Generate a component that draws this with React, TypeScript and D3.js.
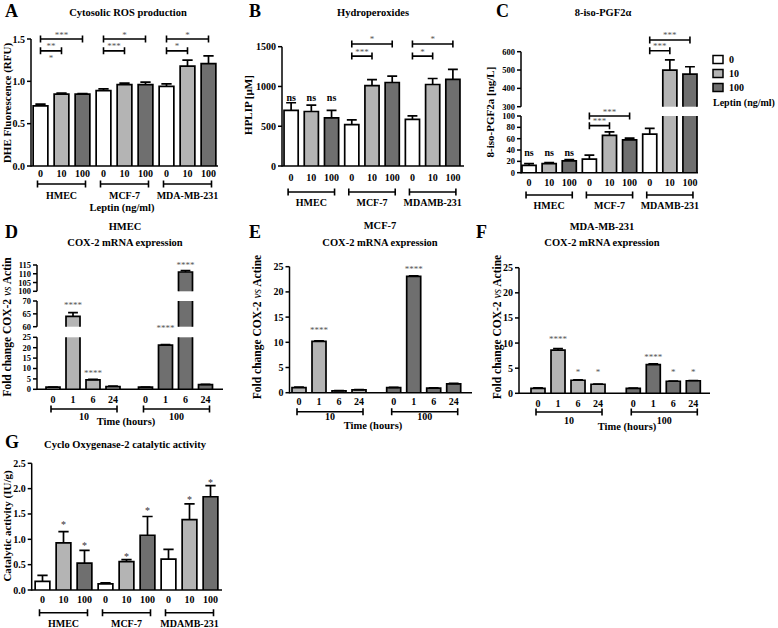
import React from "react";
import * as d3 from "d3";

const SERIF = "'Liberation Serif', 'Times New Roman', Times, serif";
const C_WHITE = "#ffffff";
const C_LIGHT = "#b4b4b4";
const C_DARK = "#6f6f6f";
const C_STAR = "#555555";
const doseFills = [C_WHITE, C_LIGHT, C_DARK];

// ---------------- data ----------------
const leptinDoses = ["0", "10", "100"];
const cellLinesA = ["HMEC", "MCF-7", "MDA-MB-231"];
const cellLinesB = ["HMEC", "MCF-7", "MDAMB-231"];

const rosMean = [0.71, 0.85, 0.85, 0.89, 0.96, 0.96, 0.94, 1.18, 1.21];
const rosErr = [0.02, 0.01, 0.005, 0.02, 0.02, 0.03, 0.03, 0.07, 0.09];

const hpMean = [700, 685, 605, 520, 1010, 1050, 585, 1025, 1090];
const hpErr = [95, 80, 95, 60, 75, 80, 45, 75, 125];

const isoMean = [13, 16, 21, 24, 66, 58, 68, 500, 478];
const isoErr = [3, 2, 2, 7, 6, 3, 10, 55, 40];

const timePoints = ["0", "1", "6", "24"];
const timeDoses = ["10", "100"];

const hmec10 = [1.0, 64.0, 4.5, 1.3];
const hmec10Err = [0.1, 1.5, 0.3, 0.2];
const hmec100 = [1.0, 21.2, 111.0, 2.2];
const hmec100Err = [0.1, 0.3, 0.8, 0.2];

const mcf10 = [1.0, 10.2, 0.35, 0.55];
const mcf10Err = [0.1, 0.1, 0.05, 0.05];
const mcf100 = [1.0, 23.1, 0.9, 1.75];
const mcf100Err = [0.05, 0.1, 0.05, 0.1];

const mda10 = [1.0, 8.6, 2.6, 1.8];
const mda10Err = [0.1, 0.3, 0.1, 0.05];
const mda100 = [1.0, 5.7, 2.4, 2.5];
const mda100Err = [0.05, 0.15, 0.05, 0.05];

const coxMean = [0.17, 0.93, 0.53, 0.12, 0.56, 1.08, 0.61, 1.39, 1.84];
const coxErr = [0.12, 0.22, 0.25, 0.02, 0.04, 0.37, 0.19, 0.31, 0.22];

// significance annotations (bar indices, value level, label)
type Sig = { a: number; b: number; v: number; label: string };
const rosSig: Sig[] = [
  { a: 0, b: 2, v: 1.5, label: "***" },
  { a: 0, b: 1, v: 1.36, label: "**" },
  { a: 3, b: 5, v: 1.5, label: "*" },
  { a: 3, b: 4, v: 1.36, label: "***" },
  { a: 6, b: 8, v: 1.5, label: "*" },
  { a: 6, b: 7, v: 1.36, label: "*" },
];
const rosSigText: Sig[] = [{ a: 0, b: 1, v: 1.29, label: "*" }];
const hpSig: Sig[] = [
  { a: 3, b: 5, v: 1534, label: "*" },
  { a: 3, b: 4, v: 1382, label: "***" },
  { a: 6, b: 8, v: 1534, label: "*" },
  { a: 6, b: 7, v: 1382, label: "*" },
];
const hpNs = [{ i: 0, v: 853 }, { i: 1, v: 853 }, { i: 2, v: 853 }];
const isoSig: Sig[] = [
  { a: 3, b: 5, v: 100, label: "***" },
  { a: 3, b: 4, v: 83, label: "***" },
  { a: 6, b: 8, v: 664, label: "***" },
  { a: 6, b: 7, v: 605, label: "***" },
];
const isoNs = [{ i: 0, v: 34 }, { i: 1, v: 34 }, { i: 2, v: 34 }];

type TStar = { g: string; t: string; v: number; label: string };
const hmecStars: TStar[] = [
  { g: "10", t: "1", v: 69.2, label: "****" },
  { g: "10", t: "6", v: 8.5, label: "****" },
  { g: "100", t: "1", v: 30, label: "****" },
  { g: "100", t: "6", v: 116, label: "****" },
];
const mcfStars: TStar[] = [
  { g: "10", t: "1", v: 12.8, label: "****" },
  { g: "100", t: "1", v: 24.9, label: "****" },
];
const mdaStars: TStar[] = [
  { g: "10", t: "1", v: 11.1, label: "****" },
  { g: "10", t: "6", v: 4.5, label: "*" },
  { g: "10", t: "24", v: 4.5, label: "*" },
  { g: "100", t: "1", v: 7.5, label: "****" },
  { g: "100", t: "6", v: 4.5, label: "*" },
  { g: "100", t: "24", v: 4.5, label: "*" },
];
const coxStars = [
  { i: 1, v: 1.32 },
  { i: 2, v: 0.91 },
  { i: 4, v: 0.7 },
  { i: 5, v: 1.59 },
  { i: 7, v: 1.81 },
  { i: 8, v: 2.16 },
];

// ---------------- helpers ----------------
type Seg = { d: [number, number]; r: [number, number]; ticks: number[] };

function yFn(segs: Seg[]) {
  const sc = segs.map((s) => d3.scaleLinear().domain(s.d).range(s.r));
  return (v: number) => {
    for (let i = 0; i < segs.length; i++) {
      if (v <= segs[i].d[1] || i === segs.length - 1) {
        if (i > 0 && v < segs[i].d[0]) return sc[i - 1](v);
        return sc[i](v);
      }
    }
    return sc[0](v);
  };
}

function Txt(p: {
  x: number;
  y: number;
  children: React.ReactNode;
  size?: number;
  weight?: string;
  anchor?: string;
  fill?: string;
  rot?: boolean;
}) {
  return (
    <text
      x={p.x}
      y={p.y}
      fontFamily={SERIF}
      fontSize={p.size ?? 10}
      fontWeight={p.weight ?? "bold"}
      textAnchor={(p.anchor as any) ?? "middle"}
      fill={p.fill ?? "#000"}
      transform={p.rot ? `rotate(-90 ${p.x} ${p.y})` : undefined}
    >
      {p.children}
    </text>
  );
}

type BarSpec = { cx: number; w: number; v: number; e: number; fill: string };

function Bars({ bars, segs }: { bars: BarSpec[]; segs: Seg[] }) {
  const y = yFn(segs);
  return (
    <g>
      {bars.map((b, i) => {
        const x0 = b.cx - b.w / 2;
        const x1 = b.cx + b.w / 2;
        const pieces = segs.map((s, j) => {
          if (j > 0 && b.v <= s.d[0]) return null;
          const sc = d3.scaleLinear().domain(s.d).range(s.r);
          const isLast = b.v <= s.d[1] || j === segs.length - 1;
          const yb = sc(s.d[0]);
          const yt = sc(Math.min(b.v, s.d[1]));
          const d = isLast
            ? `M${x0},${yb}V${yt}H${x1}V${yb}`
            : `M${x0},${yb}V${yt}M${x1},${yt}V${yb}`;
          return (
            <g key={j}>
              <rect x={x0} y={yt} width={b.w} height={Math.max(0, yb - yt)} fill={b.fill} />
              <path d={d} fill="none" stroke="#000" strokeWidth={1.7} />
            </g>
          );
        });
        const ya = y(b.v);
        const ye = y(b.v + b.e);
        const cw = b.w * 0.7;
        return (
          <g key={i}>
            {pieces}
            <path
              d={`M${b.cx},${ya}V${ye}M${b.cx - cw / 2},${ye}H${b.cx + cw / 2}`}
              fill="none"
              stroke="#000"
              strokeWidth={1.7}
            />
          </g>
        );
      })}
    </g>
  );
}

function YAxis({
  segs,
  x,
  xEnd,
  fmt,
  tickSize,
}: {
  segs: Seg[];
  x: number;
  xEnd: number;
  fmt: (v: number) => string;
  tickSize?: number;
}) {
  const base = segs[0].r[0];
  const fs = tickSize ?? 10;
  return (
    <g>
      {segs.map((s, j) => {
        const sc = d3.scaleLinear().domain(s.d).range(s.r);
        return (
          <g key={j}>
            <line x1={x} x2={x} y1={s.r[0] + (j === 0 ? 0.75 : 0)} y2={s.r[1]} stroke="#000" strokeWidth={1.5} />
            {s.ticks.map((t) => (
              <g key={t}>
                <line x1={x - 4} x2={x} y1={sc(t)} y2={sc(t)} stroke="#000" strokeWidth={1.5} />
                <Txt x={x - 6} y={sc(t) + fs * 0.35} anchor="end" size={fs}>
                  {fmt(t)}
                </Txt>
              </g>
            ))}
          </g>
        );
      })}
      <line x1={x} x2={xEnd} y1={base} y2={base} stroke="#000" strokeWidth={1.5} />
    </g>
  );
}

function Bracket({ x1, x2, y }: { x1: number; x2: number; y: number }) {
  const h = 3.5;
  return (
    <path
      d={`M${x1},${y - h}V${y + h}M${x1},${y}H${x2}M${x2},${y - h}V${y + h}`}
      stroke="#000"
      strokeWidth={1.6}
      fill="none"
    />
  );
}

type DoseCfg = {
  segs: Seg[];
  ax: number;
  xEnd: number;
  range: [number, number];
  padOuter: number;
  means: number[];
  errs: number[];
  fmt: (v: number) => string;
  groups: string[];
  tickY: number;
  brY: number;
  grpY: number;
  sig?: Sig[];
  sigText?: Sig[];
  ns?: { i: number; v: number }[];
  stars?: { i: number; v: number }[];
  axisFont?: number;
};

function DosePanel(p: DoseCfg) {
  const x = d3
    .scaleBand<number>()
    .domain(d3.range(p.means.length))
    .range(p.range)
    .paddingInner(0.3)
    .paddingOuter(p.padOuter);
  const y = yFn(p.segs);
  const c = (i: number) => (x(i) as number) + x.bandwidth() / 2;
  const bars = p.means.map((v, i) => ({ cx: c(i), w: x.bandwidth(), v, e: p.errs[i], fill: doseFills[i % 3] }));
  return (
    <g>
      <Bars bars={bars} segs={p.segs} />
      <YAxis segs={p.segs} x={p.ax} xEnd={p.xEnd} fmt={p.fmt} tickSize={p.axisFont} />
      {p.means.map((_, i) => (
        <Txt key={"t" + i} x={c(i)} y={p.tickY}>
          {leptinDoses[i % 3]}
        </Txt>
      ))}
      {p.groups.map((g, k) => {
        const x1 = c(3 * k) - 3;
        const x2 = c(3 * k + 2) + 3;
        return (
          <g key={"g" + k}>
            <Bracket x1={x1} x2={x2} y={p.brY} />
            <Txt x={(x1 + x2) / 2} y={p.grpY}>
              {g}
            </Txt>
          </g>
        );
      })}
      {(p.sig || []).map((s, k) => {
        const yy = y(s.v);
        return (
          <g key={"s" + k}>
            <Bracket x1={c(s.a)} x2={c(s.b)} y={yy} />
            <Txt x={(c(s.a) + c(s.b)) / 2} y={yy - 1.5} size={9} weight="normal" fill={C_STAR}>
              {s.label}
            </Txt>
          </g>
        );
      })}
      {(p.sigText || []).map((s, k) => (
        <Txt key={"st" + k} x={(c(s.a) + c(s.b)) / 2} y={y(s.v) + 4.5} size={9} weight="normal" fill={C_STAR}>
          {s.label}
        </Txt>
      ))}
      {(p.ns || []).map((s, k) => (
        <Txt key={"ns" + k} x={c(s.i)} y={y(s.v) + 2.5}>
          ns
        </Txt>
      ))}
      {(p.stars || []).map((s, k) => (
        <Txt key={"sr" + k} x={c(s.i)} y={y(s.v) + 5} size={10} weight="normal" fill="#333">
          *
        </Txt>
      ))}
    </g>
  );
}

type TimeCfg = {
  segs: Seg[];
  ax: number;
  xEnd: number;
  range: [number, number];
  padGroup: number;
  v10: number[];
  e10: number[];
  v100: number[];
  e100: number[];
  tickY: number;
  brY: number;
  grpY: number;
  timeX: number;
  timeY: number;
  stars: TStar[];
  axisFont?: number;
};

function TimePanel(p: TimeCfg) {
  const outer = d3.scaleBand<string>().domain(timeDoses).range(p.range).paddingInner(p.padGroup);
  const inner = d3
    .scaleBand<string>()
    .domain(timePoints)
    .range([0, outer.bandwidth()])
    .paddingInner(0.3)
    .paddingOuter(0.15);
  const c = (g: string, t: string) => (outer(g) as number) + (inner(t) as number) + inner.bandwidth() / 2;
  const y = yFn(p.segs);
  const bars: BarSpec[] = [];
  timePoints.forEach((t, i) => {
    bars.push({ cx: c("10", t), w: inner.bandwidth(), v: p.v10[i], e: p.e10[i], fill: C_LIGHT });
  });
  timePoints.forEach((t, i) => {
    bars.push({ cx: c("100", t), w: inner.bandwidth(), v: p.v100[i], e: p.e100[i], fill: C_DARK });
  });
  return (
    <g>
      <Bars bars={bars} segs={p.segs} />
      <YAxis segs={p.segs} x={p.ax} xEnd={p.xEnd} fmt={d3.format("d")} tickSize={p.axisFont} />
      {timeDoses.map((g) =>
        timePoints.map((t) => (
          <Txt key={g + t} x={c(g, t)} y={p.tickY}>
            {t}
          </Txt>
        ))
      )}
      {timeDoses.map((g) => {
        const x1 = c(g, "0") - 2;
        const x2 = c(g, "24") + 4;
        return (
          <g key={"b" + g}>
            <Bracket x1={x1} x2={x2} y={p.brY} />
            <Txt x={(x1 + x2) / 2} y={p.grpY}>
              {g}
            </Txt>
          </g>
        );
      })}
      <Txt x={p.timeX} y={p.timeY} size={10.5}>
        Time (hours)
      </Txt>
      {p.stars.map((s, k) => (
        <Txt key={"s" + k} x={c(s.g, s.t)} y={y(s.v) + 4.5} size={9} weight="normal" fill={C_STAR}>
          {s.label}
        </Txt>
      ))}
    </g>
  );
}

export default function App() {
  const f1 = d3.format(".1f");
  const fd = d3.format("d");

  const segsA: Seg[] = [{ d: [0, 1.5], r: [166, 39], ticks: [0, 0.5, 1, 1.5] }];
  const segsB: Seg[] = [{ d: [0, 1500], r: [166, 46.7], ticks: [0, 500, 1000, 1500] }];
  const segsC: Seg[] = [
    { d: [0, 100], r: [172.7, 116], ticks: [0, 20, 40, 60, 80, 100] },
    { d: [300, 600], r: [106.7, 51.7], ticks: [300, 400, 500, 600] },
  ];
  const segsD: Seg[] = [
    { d: [0, 25], r: [389.3, 337.3], ticks: [0, 5, 10, 15, 20, 25] },
    { d: [60, 70], r: [326.7, 301], ticks: [60, 65, 70] },
    { d: [100, 115], r: [291.3, 265], ticks: [100, 105, 110, 115] },
  ];
  const segsE: Seg[] = [{ d: [0, 25], r: [392.7, 266.7], ticks: [0, 5, 10, 15, 20, 25] }];
  const segsF: Seg[] = [{ d: [0, 25], r: [393.3, 267.7], ticks: [0, 5, 10, 15, 20, 25] }];
  const segsG: Seg[] = [{ d: [0, 2.5], r: [590, 463.3], ticks: [0, 0.5, 1, 1.5, 2, 2.5] }];

  const legendY = [59.5, 73.5, 87.5];

  return (
    <svg width={778} height={628} style={{ position: "absolute", left: 0, top: 0 }}>
      <rect x={0} y={0} width={778} height={628} fill="#fff" />

      {/* Panel letters */}
      <Txt x={5} y={17} size={18} anchor="start">A</Txt>
      <Txt x={249} y={17} size={18} anchor="start">B</Txt>
      <Txt x={496} y={17} size={18} anchor="start">C</Txt>
      <Txt x={5} y={238} size={18} anchor="start">D</Txt>
      <Txt x={249} y={238} size={18} anchor="start">E</Txt>
      <Txt x={476} y={238} size={18} anchor="start">F</Txt>
      <Txt x={5} y={448} size={18} anchor="start">G</Txt>

      {/* Titles */}
      <Txt x={128} y={15.5} size={10.5}>Cytosolic ROS production</Txt>
      <Txt x={373} y={15.5} size={10.5}>Hydroperoxides</Txt>
      <Txt x={603} y={15.5} size={10.5}>8-iso-PGF2α</Txt>
      <Txt x={125} y={229.5} size={10.5}>HMEC</Txt>
      <Txt x={125} y={245.5} size={10.5}>COX-2 mRNA expression</Txt>
      <Txt x={380} y={228.5} size={10.5}>MCF-7</Txt>
      <Txt x={380} y={245.5} size={10.5}>COX-2 mRNA expression</Txt>
      <Txt x={602} y={229.5} size={10.5}>MDA-MB-231</Txt>
      <Txt x={602} y={245.5} size={10.5}>COX-2 mRNA expression</Txt>
      <Txt x={125} y={447.5} size={10.5}>Cyclo Oxygenase-2 catalytic activity</Txt>

      {/* Y labels */}
      <Txt x={10.5} y={103} size={11} rot>DHE Fluorescence (RFU)</Txt>
      <Txt x={252} y={105} size={11} rot>HPLIP [µM]</Txt>
      <Txt x={494} y={112} size={11} rot>8-iso-PGF2a [ng/L]</Txt>
      <Txt x={10.5} y={327} size={11.5} rot>
        Fold change COX-2 <tspan fontStyle="italic" fontWeight="normal">vs</tspan> Actin
      </Txt>
      <Txt x={261} y={327} size={11.5} rot>
        Fold change COX-2 <tspan fontStyle="italic" fontWeight="normal">vs</tspan> Actine
      </Txt>
      <Txt x={501} y={327} size={11.5} rot>
        Fold change COX-2 <tspan fontStyle="italic" fontWeight="normal">vs</tspan> Actine
      </Txt>
      <Txt x={10.5} y={526} size={11} rot>Catalytic activity (IU/g)</Txt>

      {/* Panel A */}
      <DosePanel
        segs={segsA}
        ax={31}
        xEnd={218}
        range={[30, 219]}
        padOuter={0.15}
        means={rosMean}
        errs={rosErr}
        fmt={f1}
        groups={cellLinesA}
        tickY={177}
        brY={184}
        grpY={198.5}
        sig={rosSig}
        sigText={rosSigText}
      />
      <Txt x={122} y={210.5} size={10.5}>Leptin (ng/ml)</Txt>

      {/* Panel B */}
      <DosePanel
        segs={segsB}
        ax={282}
        xEnd={464}
        range={[281, 463]}
        padOuter={0.15}
        means={hpMean}
        errs={hpErr}
        fmt={fd}
        groups={cellLinesB}
        tickY={180.5}
        brY={192}
        grpY={205.5}
        sig={hpSig}
        ns={hpNs}
      />

      {/* Panel C */}
      <DosePanel
        segs={segsC}
        ax={521}
        xEnd={698}
        range={[521, 698]}
        padOuter={0.05}
        means={isoMean}
        errs={isoErr}
        fmt={fd}
        groups={cellLinesB}
        tickY={186.2}
        brY={195}
        grpY={208.5}
        sig={isoSig}
        ns={isoNs}
        axisFont={8.5}
      />

      {/* Legend */}
      {leptinDoses.map((d, i) => (
        <g key={"lg" + d}>
          <rect x={713} y={legendY[i] - 4} width={10} height={8} fill={doseFills[i]} stroke="#000" strokeWidth={1.5} />
          <Txt x={729} y={legendY[i] + 3.5} anchor="start">{d}</Txt>
        </g>
      ))}
      <Txt x={713} y={106} anchor="start">Leptin (ng/ml)</Txt>

      {/* Panel D */}
      <TimePanel
        segs={segsD}
        ax={37}
        xEnd={223}
        range={[43, 215.5]}
        padGroup={0.135}
        v10={hmec10}
        e10={hmec10Err}
        v100={hmec100}
        e100={hmec100Err}
        tickY={402.5}
        brY={409}
        grpY={420}
        timeX={126}
        timeY={424.5}
        stars={hmecStars}
        axisFont={8.5}
      />

      {/* Panel E */}
      <TimePanel
        segs={segsE}
        ax={289.5}
        xEnd={472}
        range={[289, 463.7]}
        padGroup={0.155}
        v10={mcf10}
        e10={mcf10Err}
        v100={mcf100}
        e100={mcf100Err}
        tickY={405}
        brY={411.7}
        grpY={420}
        timeX={373}
        timeY={428.5}
        stars={mcfStars}
      />

      {/* Panel F */}
      <TimePanel
        segs={segsF}
        ax={519}
        xEnd={710}
        range={[528, 703.3]}
        padGroup={0.16}
        v10={mda10}
        e10={mda10Err}
        v100={mda100}
        e100={mda100Err}
        tickY={406.5}
        brY={412}
        grpY={423.5}
        timeX={627}
        timeY={430}
        stars={mdaStars}
      />

      {/* Panel G */}
      <DosePanel
        segs={segsG}
        ax={31.7}
        xEnd={222}
        range={[32, 221]}
        padOuter={0.15}
        means={coxMean}
        errs={coxErr}
        fmt={f1}
        groups={cellLinesB}
        tickY={603}
        brY={612.7}
        grpY={627}
        stars={coxStars}
      />
    </svg>
  );
}
